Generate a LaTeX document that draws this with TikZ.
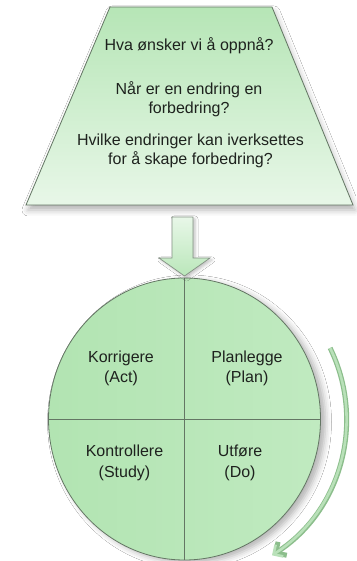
\documentclass[tikz,border=0pt]{standalone}
\usepackage{fontspec}
\setmainfont{Liberation Sans}
\usetikzlibrary{shapes.geometric,shadows.blur,arrows.meta}
\definecolor{edgecol}{RGB}{100,118,100}
\definecolor{gA}{RGB}{178,228,178}
\definecolor{gB}{RGB}{232,247,232}
\definecolor{gC}{RGB}{192,234,192}
\definecolor{arrowout}{RGB}{140,190,140}
\definecolor{arrowin}{RGB}{185,225,185}
\definecolor{txt}{RGB}{30,34,30}
\begin{document}
\begin{tikzpicture}[x=1pt,y=1pt,
  lbl/.style={font=\fontsize{16}{19.5}\selectfont, align=center, text=txt, inner sep=0pt},
  clbl/.style={font=\fontsize{16}{20.5}\selectfont, align=center, text=txt, inner sep=0pt},
  shapeline/.style={draw=edgecol, line width=0.8pt},
  softshadow/.style={blur shadow={shadow xshift=2pt, shadow yshift=-5pt, shadow blur radius=6pt, shadow opacity=30}}
]
\useasboundingbox (0,0) rectangle (356,561);
\fill[white] (0,0) rectangle (356,561);

% trapezoid
\coordinate (tl) at (110,554);
\coordinate (tr) at (272,554);
\coordinate (br) at (353,356);
\coordinate (bl) at (26,356);
\path[shapeline, softshadow, left color=gA!95, right color=gB, shading angle=0]
  (tl) -- (tr) -- (br) -- (bl) -- cycle;

\node[lbl] (q1) at (189,515) {Hva ønsker vi å oppnå?};
\node[lbl] (q2) at (189,462) {Når er en endring en\\forbedring?};
\node[lbl] (q3) at (190.5,410) {Hvilke endringer kan iverksettes\\for å skape forbedring?};

% circle
\node[ellipse, shapeline, minimum width=272pt, minimum height=282pt, inner sep=0pt,
  blur shadow={shadow xshift=5pt, shadow yshift=-3pt, shadow blur radius=6pt, shadow opacity=30},
  left color=gA, right color=gC] (c) at (184.5,142) {};
\draw[shapeline] (c.north) -- (c.south);
\draw[shapeline] (c.west) -- (c.east);

% down arrow
\coordinate (a1) at (172,344);
\coordinate (a2) at (193,344);
\coordinate (a3) at (193,303);
\coordinate (a4) at (210,303);
\coordinate (tip) at (184.5,285);
\coordinate (a6) at (159,303);
\coordinate (a7) at (172,303);
\path[draw=edgecol!80, line width=0.7pt, top color=gB, bottom color=gA!90,
  blur shadow={shadow xshift=2pt, shadow yshift=-2pt, shadow blur radius=3pt, shadow opacity=25}]
  (a1) -- (a2) -- (a3) -- (a4) -- (tip) -- (a6) -- (a7) -- cycle;

% labels in circle
\node[clbl] (act) at (121,192.5) {Korrigere\\(Act)};
\node[clbl] (plan) at (247,192.5) {Planlegge\\(Plan)};
\node[clbl] (study) at (124.5,98) {Kontrollere\\(Study)};
\node[clbl] (do) at (240,98) {Utføre\\(Do)};

% curved cycle arrow
\draw[arrowout, line width=5pt, -{Straight Barb[length=8pt,width=16pt]}]
  (c.center) ++(26:162) arc[start angle=26, end angle=-57, radius=162];
\draw[arrowin, line width=2.6pt, -{Straight Barb[length=7pt,width=14pt]}]
  (c.center) ++(26:162) arc[start angle=26, end angle=-57.3, radius=162];
\end{tikzpicture}
\end{document}
